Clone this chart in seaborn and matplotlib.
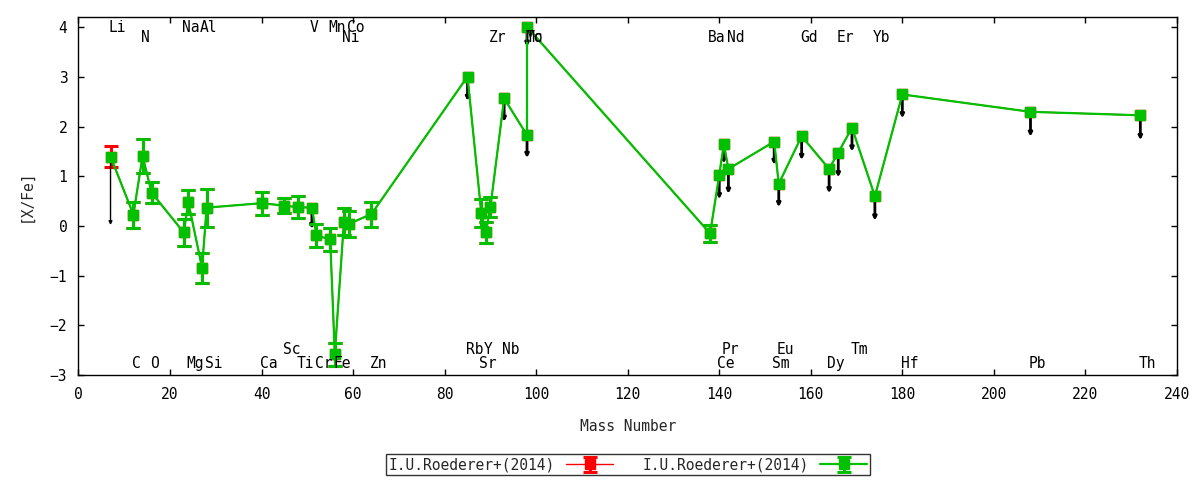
import numpy as np
import pandas as pd
import seaborn as sns
import matplotlib
matplotlib.use("Agg")
import matplotlib.pyplot as plt

# abundance pattern, I.U.Roederer+(2014)
elements = ["Li", "C", "N", "O", "Na", "Mg", "Al", "Si", "Ca", "Sc", "Ti", "V",
            "Cr", "Mn", "Fe", "Ni", "Co", "Zn", "Rb", "Sr", "Y", "Zr", "Nb", "Mo",
            "Tc", "Ba", "Ce", "Pr", "Nd", "Sm", "Eu", "Gd", "Dy", "Er", "Tm", "Yb",
            "Hf", "Pb", "Th"]
mass = [7, 12, 14, 16, 23, 24, 27, 28, 40, 45, 48, 51,
        52, 55, 56, 58, 59, 64, 85, 88, 89, 90, 93, 98,
        98, 138, 140, 141, 142, 152, 153, 158, 164, 166, 169, 174,
        180, 208, 232]
xfe = [1.40, 0.23, 1.41, 0.67, -0.13, 0.48, -0.84, 0.37, 0.46, 0.41, 0.38, 0.37,
       -0.19, -0.27, -2.58, 0.09, 0.04, 0.24, 3.01, 0.27, -0.13, 0.38, 2.57, 1.83,
       4.01, -0.15, 1.03, 1.65, 1.15, 1.70, 0.85, 1.81, 1.15, 1.48, 1.98, 0.60,
       2.65, 2.30, 2.23]
err_green = [0.0, 0.26, 0.35, 0.21, 0.28, 0.24, 0.30, 0.38, 0.23, 0.15, 0.22, 0.0,
             0.24, 0.24, 0.23, 0.28, 0.27, 0.25, 0.0, 0.28, 0.21, 0.20, 0.0, 0.0,
             0.0, 0.17, 0.0, 0.0, 0.0, 0.0, 0.0, 0.0, 0.0, 0.0, 0.0, 0.0,
             0.0, 0.0, 0.0]
err_red = [0.21] + err_green[1:]
# upper limits: arrow end value (nan = detection)
limit_end = [0.02, np.nan, np.nan, np.nan, np.nan, np.nan, np.nan, np.nan, np.nan, np.nan, np.nan, -0.06,
             np.nan, np.nan, np.nan, np.nan, np.nan, np.nan, 2.52, np.nan, np.nan, np.nan, 2.10, 1.37,
             3.61, np.nan, 0.54, 1.26, 0.65, 1.23, 0.38, 1.33, 0.66, 0.98, 1.50, 0.11,
             2.17, 1.80, 1.73]

# which row each element label goes in
label_row = {"Li": "t1", "Na": "t1", "Al": "t1", "V": "t1", "Mn": "t1", "Co": "t1",
             "N": "t2", "Ni": "t2", "Zr": "t2", "Mo": "t2", "Tc": "t2", "Ba": "t2",
             "Nd": "t2", "Gd": "t2", "Er": "t2", "Yb": "t2",
             "Sc": "b2", "Rb": "b2", "Y": "b2", "Nb": "b2", "Pr": "b2", "Eu": "b2", "Tm": "b2"}
row_y = {"t1": 4.0, "t2": 3.8, "b1": -2.76, "b2": -2.48}

df = pd.DataFrame({"el": elements, "mass": mass, "xfe": xfe,
                   "eg": err_green, "er": err_red, "lim": limit_end})
# no error bar drawn where the error is zero
df["eg"] = df["eg"].where(df["eg"] > 0)
df["er"] = df["er"].where(df["er"] > 0)

sns.set_theme(style="ticks")
plt.rcParams["font.family"] = ["DejaVu Sans Mono"]
plt.rcParams["font.size"] = 10

fig = plt.figure(figsize=(12, 4.8), dpi=100)
ax = fig.add_axes([0.0654, 0.2188, 0.9154, 0.7458])

red = "#ff0000"
green = "#00c000"
fs = 10

ax.errorbar(df["mass"], df["xfe"], yerr=df["er"], fmt="-s", color=red, ms=6.5,
            lw=1.0, elinewidth=2.2, capsize=5, capthick=2.2, zorder=2,
            label="I.U.Roederer+(2014)")
ax.errorbar(df["mass"], df["xfe"], yerr=df["eg"], fmt="-s", color=green, ms=7,
            lw=1.6, elinewidth=2.2, capsize=5, capthick=2.2, zorder=3,
            label="I.U.Roederer+(2014)")

# upper limit arrows
for _, r in df[df["lim"].notna()].iterrows():
    w = 1.0 if r["el"] == "Li" else 2.0
    ax.annotate("", xy=(r["mass"], r["lim"]), xytext=(r["mass"], r["xfe"]),
                arrowprops=dict(arrowstyle="-|>", color="black", lw=w,
                                mutation_scale=5, shrinkA=0, shrinkB=0),
                zorder=2.5)

# element labels
for el, m in zip(elements, mass):
    ax.text(m - 0.4, row_y[label_row.get(el, "b1")], el, ha="left", va="center",
            fontsize=fs + 0.5, color="black", zorder=4)

ax.set_xlim(0, 240)
ax.set_ylim(-3, 4.21)
ax.set_xticks(np.arange(0, 241, 20))
ax.set_yticks(np.arange(-3, 5, 1))
ax.tick_params(direction="in", length=4, width=1, top=True, right=True,
               labelsize=fs + 0.5, colors="black")
ax.tick_params(axis="x", pad=9)
ax.tick_params(axis="y", pad=8)
for s in ax.spines.values():
    s.set_color("black")
    s.set_linewidth(1)
ax.set_xlabel("Mass Number", fontsize=fs + 0.5, labelpad=12)
ax.set_ylabel("[X/Fe]", fontsize=fs + 0.5, labelpad=12)

leg = ax.legend(loc="center", bbox_to_anchor=(0.5, -0.251), ncol=2, markerfirst=False,
                frameon=True, fancybox=False, edgecolor="black", fontsize=fs + 0.5,
                handlelength=3.2, columnspacing=2.0, borderpad=0.2, handletextpad=0.8)
leg.get_frame().set_linewidth(1)

fig.savefig("out.png", dpi=100)
